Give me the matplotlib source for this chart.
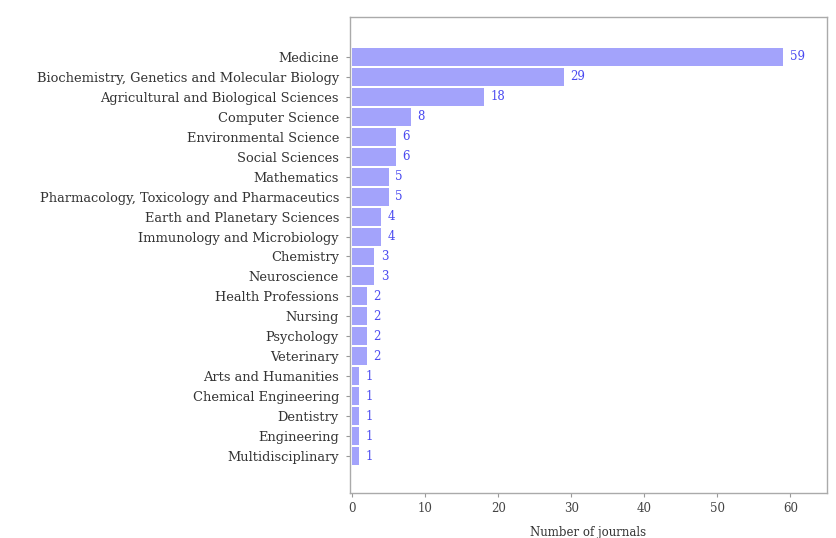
import matplotlib
matplotlib.use("Agg")
import matplotlib.pyplot as plt
import numpy as np

categories = [
    "Medicine",
    "Biochemistry, Genetics and Molecular Biology",
    "Agricultural and Biological Sciences",
    "Computer Science",
    "Environmental Science",
    "Social Sciences",
    "Mathematics",
    "Pharmacology, Toxicology and Pharmaceutics",
    "Earth and Planetary Sciences",
    "Immunology and Microbiology",
    "Chemistry",
    "Neuroscience",
    "Health Professions",
    "Nursing",
    "Psychology",
    "Veterinary",
    "Arts and Humanities",
    "Chemical Engineering",
    "Dentistry",
    "Engineering",
    "Multidisciplinary",
]
counts = [59, 29, 18, 8, 6, 6, 5, 5, 4, 4, 3, 3, 2, 2, 2, 2, 1, 1, 1, 1, 1]
xticks = [0, 10, 20, 30, 40, 50, 60]

plt.rcParams['font.family'] = ['DejaVu Serif']

fig = plt.figure(figsize=(8.37, 5.38), dpi=100)
ax = fig.add_axes([350/837, 1 - 493/538, (827-350)/837, (493-17)/538])

y = np.arange(len(categories))
ax.barh(y, counts, height=0.9, color='#a3a3fb', edgecolor='none')
for yi, v in zip(y, counts):
    ax.text(v + 0.9, yi, str(v), va='center', ha='left', fontsize=8.5, color='#4a4af0')

ax.set_yticks(y)
ax.set_yticklabels(categories, fontsize=9.4, color='#333333')
ax.set_ylim(len(categories) - 1 + 1.85, -2)
ax.set_xlim(-0.3, 65)
ax.set_xticks(xticks)
ax.set_xticklabels([str(t) for t in xticks], fontsize=8.5, color='#444444')
ax.set_xlabel("Number of journals", fontsize=8.5, color='#333333', labelpad=8)
ax.tick_params(axis='both', length=3, color='#999999')
ax.tick_params(axis='y', pad=5)
for s in ax.spines.values():
    s.set_color('#aaaaaa')
    s.set_linewidth(1.0)

fig.savefig("out.png", dpi=100, facecolor='white')
